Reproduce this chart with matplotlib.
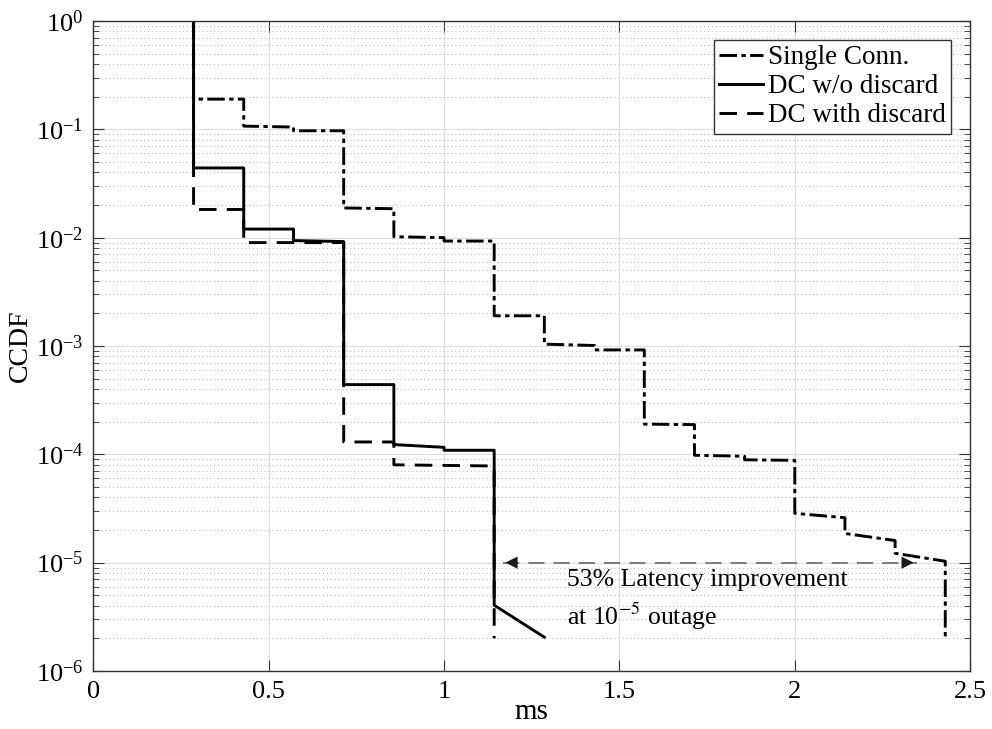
import numpy as np
import matplotlib.pyplot as plt
from matplotlib.ticker import LogLocator, NullFormatter, FixedLocator

plt.rcParams['font.family'] = ['Liberation Serif', 'DejaVu Serif']
plt.rcParams['mathtext.fontset'] = 'stix'

# CCDF vertices (ms, probability)
single_x = [0.286, 0.286, 0.429, 0.429, 0.571, 0.571, 0.714, 0.714, 0.857, 0.857,
            1.0, 1.0, 1.143, 1.143, 1.286, 1.286, 1.429, 1.429, 1.571, 1.571,
            1.714, 1.714, 1.857, 1.857, 2.0, 2.0, 2.143, 2.143, 2.286, 2.286,
            2.429, 2.429]
single_y = [1.0, 0.19, 0.19, 0.107, 0.105, 0.097, 0.097, 0.0188, 0.0185, 0.0102,
            0.0100, 0.0093, 0.0093, 0.0019, 0.0019, 0.00104, 0.00101, 0.00092, 0.00092, 1.9e-4,
            1.88e-4, 9.8e-5, 9.6e-5, 8.9e-5, 8.8e-5, 2.85e-5, 2.6e-5, 1.86e-5, 1.6e-5, 1.22e-5,
            1.03e-5, 2.0e-6]

dc_x = [0.286, 0.286, 0.429, 0.429, 0.571, 0.571, 0.714, 0.714, 0.857, 0.857,
        1.0, 1.0, 1.143, 1.143, 1.286]
dc_y = [1.0, 0.044, 0.044, 0.012, 0.012, 0.0094, 0.0092, 4.4e-4, 4.4e-4, 1.23e-4,
        1.16e-4, 1.09e-4, 1.09e-4, 4.05e-6, 2.05e-6]

dcd_x = [0.286, 0.286, 0.429, 0.429, 0.714, 0.714, 0.857, 0.857, 1.143, 1.143]
dcd_y = [1.0, 0.0182, 0.0182, 0.0090, 0.0090, 1.3e-4, 1.3e-4, 8.0e-5, 7.8e-5, 2.0e-6]

labels = ['Single Conn.', 'DC w/o discard', 'DC with discard']
arrow_x = [1.167, 2.347]
arrow_y = 1e-5

fig = plt.figure(figsize=(9.92, 7.29), dpi=100)
ax = fig.add_axes([0.094, 0.0796, 0.884, 0.8916])

ax.plot(single_x, single_y, color='black', lw=2.1, linestyle=(0, (6, 1.5, 1.5, 1.5)), label=labels[0])
ax.plot(dc_x, dc_y, color='black', lw=2.1, linestyle='-', label=labels[1])
ax.plot(dcd_x, dcd_y, color='black', lw=2.1, linestyle=(0, (6, 3.5)), label=labels[2])

ax.set_yscale('log')
ax.set_xlim(0, 2.5)
ax.set_ylim(1e-6, 1)
ax.xaxis.set_major_locator(FixedLocator([0, 0.5, 1, 1.5, 2, 2.5]))
ax.set_xticklabels(['0', '0.5', '1', '1.5', '2', '2.5'])
ax.yaxis.set_major_locator(LogLocator(base=10, numticks=10))
ax.yaxis.set_minor_locator(LogLocator(base=10, subs=np.arange(2, 10), numticks=20))
ax.yaxis.set_minor_formatter(NullFormatter())

ax.grid(True, which='major', color='0.87', lw=0.8, linestyle='-')
ax.grid(True, which='minor', axis='y', color='0.75', lw=0.8, linestyle=(0, (1, 2.5)))
ax.set_axisbelow(True)

ax.tick_params(which='both', direction='in', top=True, right=True, color='0.2')
ax.tick_params(which='major', length=8, labelsize=19, pad=7)
ax.tick_params(which='minor', length=4)
for s in ax.spines.values():
    s.set_color('0.2')
    s.set_linewidth(1)

ax.set_xlabel('ms', fontsize=21, labelpad=-3)
ax.set_ylabel('CCDF', fontsize=20, labelpad=2)

# latency improvement arrow
ax.plot(arrow_x, [arrow_y, arrow_y], color='0.45', lw=1.3, linestyle=(0, (9, 5)))
for tip, tail in [(arrow_x[0], arrow_x[0] + 0.06), (arrow_x[1], arrow_x[1] - 0.06)]:
    ax.annotate('', xy=(tip, arrow_y), xytext=(tail, arrow_y),
                arrowprops=dict(arrowstyle='-|>', color='0.1', lw=0, mutation_scale=22))
ax.text(1.35, 6.9e-6, '53% Latency improvement', fontsize=18.5, va='center', ha='left')
ax.text(1.35, 3.2e-6, 'at 10$^{-5}$ outage', fontsize=18.5, va='center', ha='left')

leg = ax.legend(loc='upper right', fontsize=19.5, fancybox=False, framealpha=1,
                edgecolor='0.2', handlelength=1.6, handletextpad=0.2,
                borderpad=0.2, labelspacing=0.15, borderaxespad=0.7)
leg.get_frame().set_linewidth(1)

fig.savefig('out.png', dpi=100)
